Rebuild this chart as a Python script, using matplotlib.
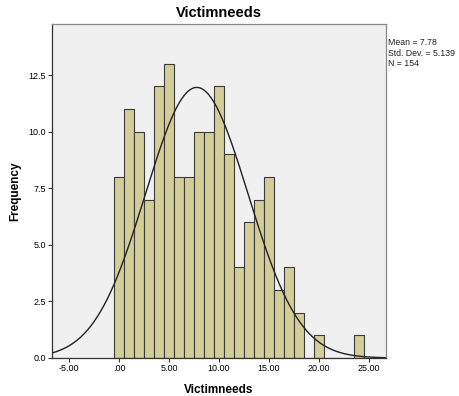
import matplotlib
matplotlib.use('Agg')
import matplotlib.pyplot as plt
import numpy as np

# ─── Data ───────────────────────────────────────────────────────────────
bin_centers = list(range(0, 25))
counts = [8, 11, 10, 7, 12, 13, 8, 8, 10, 10, 12, 9, 4, 6, 7, 8, 3, 4, 2, 0, 1, 0, 0, 0, 1]
mean_val = 7.78
sd_val = 5.139
n_val = 154
x_ticks = [-5, 0, 5, 10, 15, 20, 25]
x_tick_labels = ['-5.00', '.00', '5.00', '10.00', '15.00', '20.00', '25.00']
y_ticks = [0.0, 2.5, 5.0, 7.5, 10.0, 12.5]

plt.rcParams['font.family'] = ['Liberation Sans', 'DejaVu Sans']

fig = plt.figure(figsize=(4.6, 3.96), dpi=100, facecolor='white')
ax = fig.add_axes([0.113, 0.096, 0.726, 0.843])
ax.set_facecolor('#F0F0F0')

ax.bar(bin_centers, counts, width=1.0, color='#D3CE98',
       edgecolor='#3A3A3A', linewidth=0.8, zorder=2)

# normal curve scaled to counts
xs = np.linspace(-6.73, 26.74, 400)
ys = n_val * 1.0 / (sd_val * np.sqrt(2 * np.pi)) * np.exp(-0.5 * ((xs - mean_val) / sd_val) ** 2)
ax.plot(xs, ys, color='#222222', linewidth=1.0, zorder=3)

ax.set_xlim(-6.73, 26.74)
ax.set_ylim(0, 14.75)
ax.set_xticks(x_ticks)
ax.set_xticklabels(x_tick_labels)
ax.set_yticks(y_ticks)
ax.set_yticklabels([f'{v:.1f}' for v in y_ticks])
ax.tick_params(axis='both', labelsize=6.5, length=3, width=0.8, color='#333333', pad=1.5)

for side in ['left', 'bottom']:
    ax.spines[side].set_color('#333333')
    ax.spines[side].set_linewidth(0.9)
for side in ['top', 'right']:
    ax.spines[side].set_color('#888888')
    ax.spines[side].set_linewidth(0.9)

ax.set_xlabel('Victimneeds', fontsize=8.5, fontweight='bold', labelpad=8)
ax.set_ylabel('Frequency', fontsize=8.5, fontweight='bold', labelpad=5)
ax.set_title('Victimneeds', fontsize=10.5, fontweight='bold', pad=5)

fig.text(388 / 460, 1 - 53 / 396,
         f'Mean = {mean_val}\nStd. Dev. = {sd_val}\nN = {n_val}',
         fontsize=6.3, va='center', ha='left', linespacing=1.25, color='#222222')

fig.savefig('out.png', dpi=100, facecolor='white')
